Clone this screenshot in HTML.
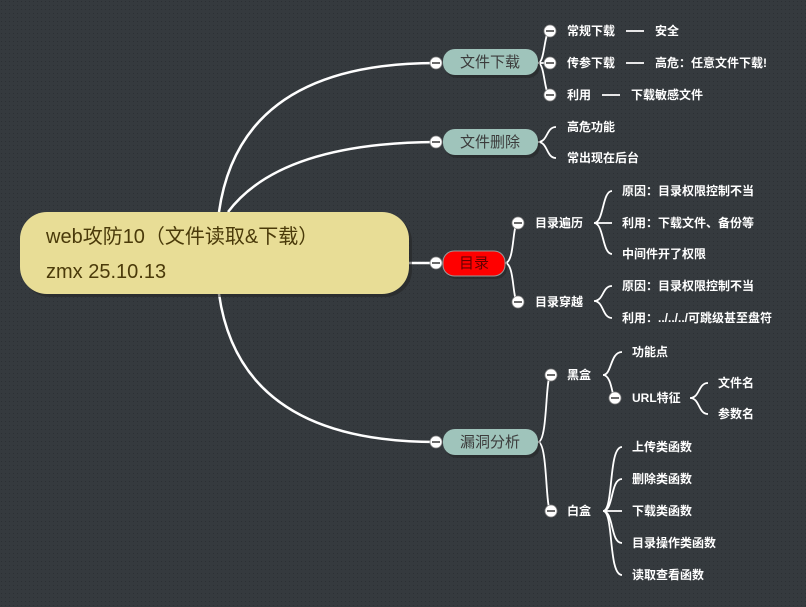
<!DOCTYPE html>
<html><head><meta charset="utf-8"><style>
html,body{margin:0;padding:0;width:806px;height:607px;overflow:hidden;background:#353a3e}
svg{display:block}
text{font-family:"Liberation Sans","Noto Sans CJK SC",sans-serif}
.s{fill:#fff;font-size:12px;font-weight:bold}
.t{fill:#3c3c3c;font-size:15px}
</style></head><body>
<svg width="806" height="607" viewBox="0 0 806 607">
<defs>
<pattern id="d" width="4" height="4" patternUnits="userSpaceOnUse"><rect width="4" height="4" fill="#353a3e"/><rect x="1" y="1" width="1" height="1" fill="#2c3034"/></pattern>
<g id="c"><circle r="6" fill="#fff" stroke="#888" stroke-width="0.8"/><line x1="-4" x2="4" y1="0" y2="0" stroke="#444" stroke-width="1.6"/></g>
</defs>
<rect width="806" height="607" fill="url(#d)"/>
<g fill="none" stroke="#fff" stroke-width="2.5">
<path d="M219,212 Q240,63 436,63"/>
<path d="M228,212 Q280,143 436,142"/>
<path d="M409,263 L436,263"/>
<path d="M219,294 Q240,442 436,442"/>
</g>
<g fill="none" stroke="#fff" stroke-width="1.8">
<path d="M538,63 C545,63 544,31 550,31"/><path d="M538,63 L550,63"/><path d="M538,63 C545,63 544,95 550,95"/>
<path d="M626,63 H644 M626,31 H644 M602,95 H620"/>
<path d="M538,142 C548,142 546,127 556,127 M538,142 C548,142 546,158 556,158"/>
<path d="M505,263 C515,263 512,223 518,223 M505,263 C515,263 512,302 518,302"/>
<path d="M594,223 C604,223 602,191 612,191 M594,223 H612 M594,223 C604,223 602,254 612,254"/>
<path d="M594,301 C604,301 602,286 612,286 M594,301 C604,301 602,318 612,318"/>
<path d="M538,442 C548,442 545,375 551,375 M538,442 C548,442 545,511 551,511"/>
<path d="M603,375 C612,375 610,352 622,352 M603,375 C612,375 612,398 615,398"/>
<path d="M690,398 C700,398 698,383 708,383 M690,398 C700,398 698,414 708,414"/>
<path d="M603,511 C614,511 608,447 622,447 M603,511 C614,511 610,479 622,479 M603,511 H622 M603,511 C614,511 610,543 622,543 M603,511 C614,511 608,575 622,575"/>
</g>
<rect x="23" y="215" width="389" height="82" rx="27" fill="#222" opacity="0.5"/>
<rect x="20" y="212" width="389" height="82" rx="27" fill="#e8dd96"/>
<text x="46" y="243" font-size="20" fill="#4a3a0a" style="font-family:'Liberation Sans','Noto Sans CJK SC',sans-serif">web攻防10（文件读取&amp;下载）</text>
<text x="46" y="278" font-size="20" fill="#4a3a0a" style="font-family:'Liberation Sans','Noto Sans CJK SC',sans-serif">zmx 25.10.13</text>
<g>
<rect x="445" y="52" width="95" height="26" rx="12" fill="#222" opacity="0.5"/>
<rect x="443" y="49" width="95" height="26" rx="12" fill="#9fc4bb"/>
<text class="t" x="490" y="67" text-anchor="middle">文件下载</text>
<rect x="445" y="132" width="95" height="26" rx="12" fill="#222" opacity="0.5"/>
<rect x="443" y="129" width="95" height="26" rx="12" fill="#9fc4bb"/>
<text class="t" x="490" y="147" text-anchor="middle">文件删除</text>
<rect x="445" y="254" width="62" height="25" rx="11" fill="#222" opacity="0.5"/>
<rect x="443" y="251" width="62" height="25" rx="11" fill="#ff0000" stroke="#999" stroke-width="1"/>
<text x="474" y="268" text-anchor="middle" font-size="15" fill="#600">目录</text>
<rect x="445" y="432" width="95" height="26" rx="12" fill="#222" opacity="0.5"/>
<rect x="443" y="429" width="95" height="26" rx="12" fill="#9fc4bb"/>
<text class="t" x="490" y="447" text-anchor="middle">漏洞分析</text>
</g>
<use href="#c" x="436" y="63"/><use href="#c" x="436" y="142"/><use href="#c" x="436" y="263"/><use href="#c" x="436" y="442"/>
<use href="#c" x="550" y="31"/><use href="#c" x="550" y="63"/><use href="#c" x="550" y="95"/>
<use href="#c" x="518" y="223"/><use href="#c" x="518" y="302"/>
<use href="#c" x="551" y="375"/><use href="#c" x="551" y="511"/><use href="#c" x="615" y="398"/>
<g class="s">
<text class="s" x="567" y="35">常规下载</text><text class="s" x="655" y="35">安全</text>
<text class="s" x="567" y="67">传参下载</text><text class="s" x="655" y="67">高危：任意文件下载!</text>
<text class="s" x="567" y="99">利用</text><text class="s" x="631" y="99">下载敏感文件</text>
<text class="s" x="567" y="131">高危功能</text><text class="s" x="567" y="162">常出现在后台</text>
<text class="s" x="535" y="227">目录遍历</text><text class="s" x="535" y="306">目录穿越</text>
<text class="s" x="622" y="195">原因：目录权限控制不当</text>
<text class="s" x="622" y="227">利用：下载文件、备份等</text>
<text class="s" x="622" y="258">中间件开了权限</text>
<text class="s" x="622" y="290">原因：目录权限控制不当</text>
<text class="s" x="622" y="322">利用：../../../可跳级甚至盘符</text>
<text class="s" x="567" y="379">黑盒</text><text class="s" x="567" y="515">白盒</text>
<text class="s" x="632" y="356">功能点</text><text class="s" x="632" y="402">URL特征</text>
<text class="s" x="718" y="387">文件名</text><text class="s" x="718" y="418">参数名</text>
<text class="s" x="632" y="451">上传类函数</text><text class="s" x="632" y="483">删除类函数</text>
<text class="s" x="632" y="515">下载类函数</text><text class="s" x="632" y="547">目录操作类函数</text>
<text class="s" x="632" y="579">读取查看函数</text>
</g>
</svg>
</body></html>
